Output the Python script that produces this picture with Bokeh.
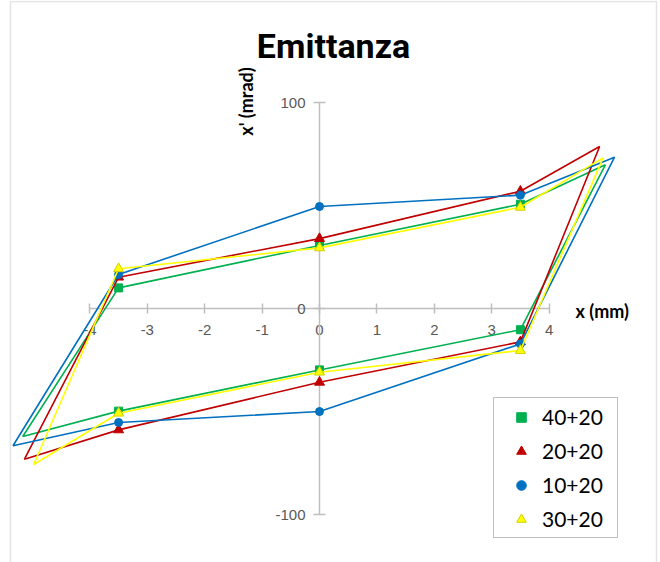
import math

from bokeh.plotting import figure
from bokeh.models import (LinearAxis, FixedTicker, Range1d, Label, Legend,
                          LegendItem, BoxAnnotation, Grid)
from bokeh.embed import file_html
from bokeh.resources import INLINE

# ---- data -----------------------------------------------------------------
# measured positions (mm) of the sampled points
x_pos = [-3.5, 0.0, 3.5]

# 40+20
g_upper = [10.1, 30.7, 50.7]
g_lower = [-49.7, -29.7, -10.2]
g_corner_tr = (4.98, 69.8)
g_corner_bl = (-5.17, -62.0)

# 20+20
r_upper = [15.3, 34.0, 57.0]
r_lower = [-58.8, -35.7, -16.1]
r_corner_tr = (4.88, 78.7)
r_corner_bl = (-5.14, -73.0)

# 10+20
b_upper = [16.6, 49.6, 55.1]
b_lower = [-55.2, -49.9, -17.1]
b_corner_tr = (5.14, 73.5)
b_corner_bl = (-5.34, -66.5)

# 30+20
y_upper = [19.4, 29.5, 49.2]
y_lower = [-50.7, -30.8, -20.3]
y_corner_tr = (4.94, 73.2)
y_corner_bl = (-4.98, -75.6)

series_names = ["40+20", "20+20", "10+20", "30+20"]

x_ticks = [-4, -3, -2, -1, 0, 1, 2, 3, 4]
x_tick_labels = ["-4", "-3", "-2", "-1", "0", "1", "2", "3", "4"]
y_ticks = [-100, 0, 100]
y_tick_labels = ["-100", "0", "100"]

# ---- layout ---------------------------------------------------------------
W, H = 660, 562
X0_PX, PX_PER_X = 319.0, 57.4      # screen column of x = 0, pixels per mm
Y0_PX, PX_PER_Y = 308.2, 2.061     # screen row of x' = 0, pixels per mrad

p = figure(width=W, height=H,
           x_range=Range1d(-X0_PX / PX_PER_X, (W - X0_PX) / PX_PER_X),
           y_range=Range1d(-(H - Y0_PX) / PX_PER_Y, Y0_PX / PX_PER_Y),
           x_axis_location=None, y_axis_location=None,
           toolbar_location=None, output_backend="svg", title=None,
           min_border=0, outline_line_color=None,
           background_fill_color="white", border_fill_color="white")
# no grid lines
p.center = [c for c in p.center if not isinstance(c, Grid)]

AXIS_GRAY = "#bfbfbf"
TICK_FONT = "Liberation Sans"
LABEL_FONT = "Lato"

xaxis = LinearAxis(fixed_location=0, bounds=(-4, 4),
                   ticker=FixedTicker(ticks=x_ticks),
                   major_label_overrides=dict(zip(x_ticks, x_tick_labels)),
                   axis_line_color=AXIS_GRAY, axis_line_width=1.5,
                   major_tick_line_color=AXIS_GRAY, major_tick_line_width=1.5,
                   major_tick_in=5, major_tick_out=5,
                   minor_tick_line_color=None,
                   major_label_text_font=TICK_FONT,
                   major_label_text_font_size="15px",
                   major_label_text_color="#595959",
                   major_label_standoff=11, level="underlay")
p.add_layout(xaxis, "below")

yaxis = LinearAxis(fixed_location=0, bounds=(-100, 100),
                   ticker=FixedTicker(ticks=y_ticks),
                   major_label_overrides=dict(zip(y_ticks, y_tick_labels)),
                   axis_line_color=AXIS_GRAY, axis_line_width=1.5,
                   major_tick_line_color=AXIS_GRAY, major_tick_line_width=1.5,
                   major_tick_in=6, major_tick_out=6,
                   minor_tick_line_color=None,
                   major_label_text_font=TICK_FONT,
                   major_label_text_font_size="15px",
                   major_label_text_color="#595959",
                   major_label_standoff=8, level="underlay")
p.add_layout(yaxis, "left")

# ---- series: closed emittance contours ------------------------------------
series = [
    (series_names[0], g_upper, g_lower, g_corner_tr, g_corner_bl, "#00b050", "#00b050", "square", 8),
    (series_names[1], r_upper, r_lower, r_corner_tr, r_corner_bl, "#c00000", "#c00000", "triangle", 10),
    (series_names[2], b_upper, b_lower, b_corner_tr, b_corner_bl, "#0070c0", "#0070c0", "circle", 8),
    (series_names[3], y_upper, y_lower, y_corner_tr, y_corner_bl, "#ffff00", "#d0d000", "triangle", 10),
]

legend_items = []
for name, up, lo, tr, bl, color, edge, marker, size in series:
    xs = x_pos + [tr[0]] + x_pos[::-1] + [bl[0]] + [x_pos[0]]
    ys = up + [tr[1]] + lo[::-1] + [bl[1]] + [up[0]]
    p.line(xs, ys, line_color=color, line_width=1.6)
    pts = p.scatter(x=x_pos + x_pos, y=up + lo, marker=marker, size=size,
                    fill_color=color, line_color=edge, line_width=1)
    legend_items.append(LegendItem(label=name, renderers=[pts]))

legend = Legend(items=legend_items, location=(493, 24), margin=0,
                padding=6, spacing=9,
                glyph_width=42, glyph_height=24,
                label_height=24, label_width=69, label_standoff=0,
                label_text_font=LABEL_FONT, label_text_font_size="21px",
                label_text_color="black",
                border_line_color="#7f7f7f", border_line_width=1.5,
                background_fill_color="white", background_fill_alpha=1.0)
p.add_layout(legend)

# ---- texts ----------------------------------------------------------------
p.add_layout(Label(x=333, y=H - 45, x_units="screen", y_units="screen",
                   text="Emittanza", text_align="center",
                   text_baseline="alphabetic",
                   text_font="Roboto", text_font_style="bold",
                   text_font_size="34px", text_color="black"))

p.add_layout(Label(x=245, y=H - 101, x_units="screen", y_units="screen",
                   text="x' (mrad)", angle=math.pi / 2,
                   text_align="center", text_baseline="middle",
                   text_font=LABEL_FONT, text_font_style="bold",
                   text_font_size="18px", text_color="black"))

p.add_layout(Label(x=575, y=H - 310, x_units="screen", y_units="screen",
                   text="x (mm)", text_align="left", text_baseline="middle",
                   text_font=LABEL_FONT, text_font_style="bold",
                   text_font_size="18px", text_color="black"))

# chart border (open at the bottom edge of the page)
p.add_layout(BoxAnnotation(left=10, right=656, top=H - 1, bottom=-10,
                           left_units="screen", right_units="screen",
                           top_units="screen", bottom_units="screen",
                           fill_color=None, fill_alpha=0,
                           line_color="#a6a6a6", line_width=1.5))

open("out.html", "w").write(file_html(p, INLINE))
